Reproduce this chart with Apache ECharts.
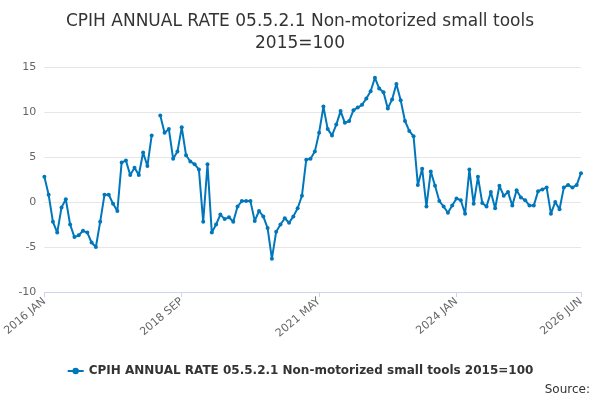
<!DOCTYPE html><html><head><meta charset="utf-8"><script src="https://cdn.jsdelivr.net/npm/echarts@6/dist/echarts.min.js"></script></head><body style="margin:0"><div id="c" style="width:600px;height:400px"></div><script>
const MONTHS=['JAN','FEB','MAR','APR','MAY','JUN','JUL','AUG','SEP','OCT','NOV','DEC'];
const categories=[];for(let y=2016;y<=2026;y++)for(let m=0;m<12;m++){if(y===2026&&m>5)break;categories.push(y+' '+MONTHS[m]);}
const shownLabels=['2016 JAN','2018 SEP','2021 MAY','2024 JAN','2026 JUN'];
const values=[2.8,0.8,-2.2,-3.4,-0.6,0.3,-2.5,-3.9,-3.7,-3.2,-3.4,-4.5,
-5.0,-2.2,0.8,0.8,-0.2,-1.0,4.4,4.6,3.0,3.8,3.0,5.5,
4.0,7.4,null,9.6,7.7,8.1,4.8,5.6,8.3,5.2,4.5,4.2,
3.6,-2.2,4.2,-3.4,-2.5,-1.4,-1.9,-1.7,-2.2,-0.5,0.1,0.1,
0.1,-2.1,-1.0,-1.6,-2.9,-6.3,-3.3,-2.5,-1.8,-2.3,-1.6,-0.7,
0.7,4.7,4.8,5.6,7.7,10.6,8.1,7.4,8.6,10.1,8.8,9.0,
10.2,10.5,10.8,11.5,12.3,13.8,12.6,12.2,10.4,11.4,13.1,11.3,
9.0,7.9,7.3,1.9,3.7,-0.5,3.4,1.8,0.1,-0.5,-1.2,-0.4,
0.4,0.2,-1.3,3.6,-0.2,2.8,-0.1,-0.5,1.1,-0.7,1.8,0.7,
1.1,-0.4,1.3,0.5,0.2,-0.4,-0.4,1.2,1.4,1.6,-1.3,0.0,
-0.8,1.6,1.9,1.6,1.9,3.2];
const seriesName='CPIH ANNUAL RATE 05.5.2.1 Non-motorized small tools 2015=100';
const c=echarts.init(document.getElementById('c'));
c.setOption({
title:{text:'CPIH ANNUAL RATE 05.5.2.1 Non-motorized small tools\n2015=100',left:'center',top:6,textStyle:{fontFamily:'DejaVu Sans',fontWeight:'normal',fontSize:17,color:'#333',lineHeight:22}},
graphic:[{type:'text',right:10,bottom:4,style:{text:'Source:',fontFamily:'DejaVu Sans',fontSize:12,fill:'#333'}}],
legend:{bottom:18,left:'center',textStyle:{fontFamily:'DejaVu Sans',fontSize:12,fontWeight:'bold',color:'#333'},itemWidth:16,itemHeight:8},
grid:{left:44,right:19,top:67,bottom:108},
xAxis:{type:'category',data:categories,boundaryGap:false,
axisLine:{onZero:false,lineStyle:{color:'#ccd6eb'}},
axisTick:{alignWithLabel:true,interval:(i,v)=>shownLabels.includes(v),lineStyle:{color:'#ccd6eb'}},
axisLabel:{interval:(i,v)=>shownLabels.includes(v),rotate:40,fontFamily:'DejaVu Sans',fontSize:11,color:'#666'}},
yAxis:{type:'value',min:-10,max:15,interval:5,axisLabel:{fontFamily:'DejaVu Sans',fontSize:11,color:'#666'},splitLine:{lineStyle:{color:'#e6e6e6'}}},
series:[{name:seriesName,type:'line',data:values,connectNulls:false,showAllSymbol:true,symbol:'circle',symbolSize:4,itemStyle:{color:'#0077bb'},lineStyle:{width:2,color:'#0077bb'}}]
});
</script></body></html>
